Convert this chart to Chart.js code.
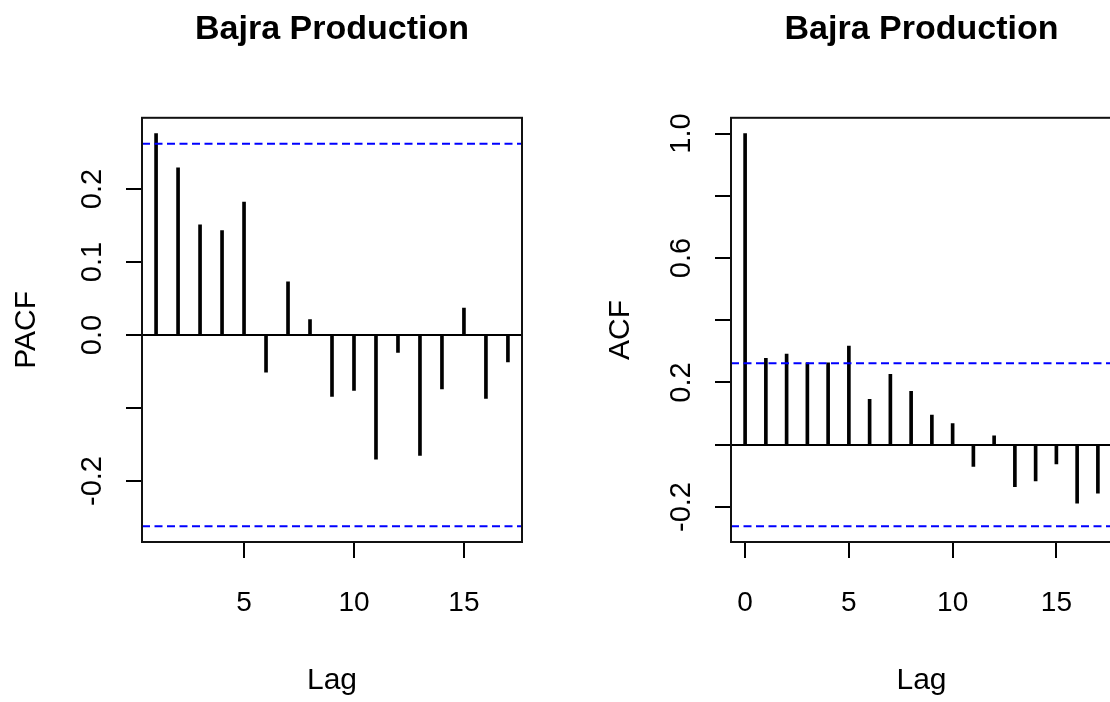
<!DOCTYPE html>
<html><head><meta charset="utf-8">
<script src="https://cdn.jsdelivr.net/npm/chart.js@4.4.1/dist/chart.umd.min.js"></script>
<style>
html,body{margin:0;padding:0;background:#fff;overflow:hidden;width:1110px;height:702px;}
canvas{position:absolute;top:0;}
#c1{left:0}
#c2{left:555px}
</style></head><body>
<canvas id="c1" width="555" height="702"></canvas>
<canvas id="c2" width="565" height="702"></canvas>
<script>
// ---- data ----
const chartTitle = "Bajra Production";
const xAxisTitle = "Lag";
const pacfAxisTitle = "PACF";
const acfAxisTitle = "ACF";

const pacfLags = [1,2,3,4,5,6,7,8,9,10,11,12,13,14,15,16,17];
const pacfValues = [0.276,0.229,0.151,0.143,0.182,-0.051,0.073,0.021,-0.084,-0.076,-0.170,-0.024,-0.165,-0.074,0.037,-0.087,-0.037];

const acfLags = [0,1,2,3,4,5,6,7,8,9,10,11,12,13,14,15,16,17];
const acfValues = [1.0,0.278,0.291,0.263,0.263,0.317,0.146,0.226,0.172,0.095,0.068,-0.070,0.029,-0.135,-0.116,-0.062,-0.188,-0.156];

const confLimit = 0.262;

const pacfXRange = [0.36, 17.64];
const pacfYRange = [-0.2835, 0.2975];
const acfXRange = [-0.68, 17.68];
const acfYRange = [-0.3125, 1.0505];

const pacfXTicks = [5,10,15];
const acfXTicks = [0,5,10,15];
const pacfYTicks = [-0.2,-0.1,0,0.1,0.2];
const pacfYTickLabels = ["-0.2","","0.0","0.1","0.2"];
const acfYTicks = [-0.2,0,0.2,0.4,0.6,0.8,1.0];
const acfYTickLabels = ["-0.2","","0.2","","0.6","","1.0"];

// ---- styling ----
const NARROW = "'Liberation Sans Narrow','Arial Narrow','Liberation Sans',Arial,sans-serif";
const REG = "'Liberation Sans',Arial,sans-serif";
Chart.defaults.color = '#000';

const framePlugin = {
  id: 'frame',
  afterDatasetsDraw(chart) {
    const {ctx, chartArea: a} = chart;
    ctx.save();
    ctx.strokeStyle = '#111';
    ctx.lineWidth = 2;
    ctx.strokeRect(a.left, a.top, a.right - a.left, a.bottom - a.top);
    ctx.restore();
  }
};

function labelFor(ticks, labels, v) {
  for (let i = 0; i < ticks.length; i++) if (Math.abs(ticks[i] - v) < 1e-9) return labels[i];
  return '';
}

function makeChart(id, o) {
  const conf = [confLimit, -confLimit].map(c => ({
    type: 'line',
    data: [{x: o.xRange[0], y: c}, {x: o.xRange[1], y: c}],
    borderColor: '#0000ff',
    borderWidth: 2,
    borderDash: [8, 4.5],
    pointRadius: 0,
    fill: false
  }));
  return new Chart(document.getElementById(id), {
    type: 'bar',
    data: {
      datasets: [
        ...conf,
        {
          type: 'bar',
          data: o.lags.map((x, i) => ({x: x, y: o.values[i]})),
          backgroundColor: '#000',
          borderWidth: 0,
          barThickness: 3
        }
      ]
    },
    options: {
      responsive: false,
      maintainAspectRatio: false,
      devicePixelRatio: 1,
      animation: false,
      events: [],
      layout: {padding: {left: o.padLeft, right: o.padRight, top: 0, bottom: 0}},
      plugins: {
        legend: {display: false},
        tooltip: {enabled: false},
        title: {
          display: true,
          text: chartTitle,
          fullSize: false,
          color: '#000',
          font: {family: NARROW, size: 34, weight: 'bold', lineHeight: 1.2},
          padding: {top: 9, bottom: 68}
        }
      },
      scales: {
        x: {
          type: 'linear',
          min: o.xRange[0],
          max: o.xRange[1],
          offset: false,
          afterBuildTicks: s => { s.ticks = o.xTicks.map(v => ({value: v})); },
          afterFit: s => { s.height = 160; },
          grid: {display: true, offset: false, drawOnChartArea: false, drawTicks: true, tickLength: 16, tickColor: '#000', lineWidth: 2},
          border: {display: true, color: '#111', width: 2},
          ticks: {
            autoSkip: false,
            maxRotation: 0,
            minRotation: 0,
            padding: 28,
            color: '#000',
            font: {family: NARROW, size: 28},
            callback: v => String(v)
          },
          title: {
            display: true,
            text: xAxisTitle,
            color: '#000',
            font: {family: NARROW, size: 30},
            padding: {top: 0, bottom: 3}
          }
        },
        y: {
          type: 'linear',
          min: o.yRange[0],
          max: o.yRange[1],
          afterBuildTicks: s => { s.ticks = o.yTicks.map(v => ({value: v})); },
          afterFit: s => { s.width = o.yWidth; s.paddingTop = 0; s.paddingBottom = 0; },
          grid: {
            display: true,
            drawOnChartArea: true,
            drawTicks: true,
            tickLength: 16,
            tickColor: '#000',
            lineWidth: 2,
            color: c => (c.tick && Math.abs(c.tick.value) < 1e-9) ? '#000' : 'rgba(0,0,0,0)'
          },
          border: {display: true, color: '#111', width: 2},
          ticks: {
            autoSkip: false,
            minRotation: 90,
            maxRotation: 90,
            crossAlign: 'center',
            padding: 8,
            color: '#000',
            font: {family: REG, size: 29},
            callback: v => labelFor(o.yTicks, o.yLabels, v)
          },
          title: {
            display: true,
            text: o.yTitle,
            color: '#000',
            font: {family: REG, size: 30},
            padding: {top: 9, bottom: 0}
          }
        }
      }
    },
    plugins: [framePlugin]
  });
}

makeChart('c1', {
  lags: pacfLags, values: pacfValues,
  xRange: pacfXRange, yRange: pacfYRange,
  xTicks: pacfXTicks, yTicks: pacfYTicks, yLabels: pacfYTickLabels,
  yTitle: pacfAxisTitle,
  padLeft: 0, padRight: 33, yWidth: 142
});

makeChart('c2', {
  lags: acfLags, values: acfValues,
  xRange: acfXRange, yRange: acfYRange,
  xTicks: acfXTicks, yTicks: acfYTicks, yLabels: acfYTickLabels,
  yTitle: acfAxisTitle,
  padLeft: 39, padRight: 8, yWidth: 137
});
</script>
</body></html>
